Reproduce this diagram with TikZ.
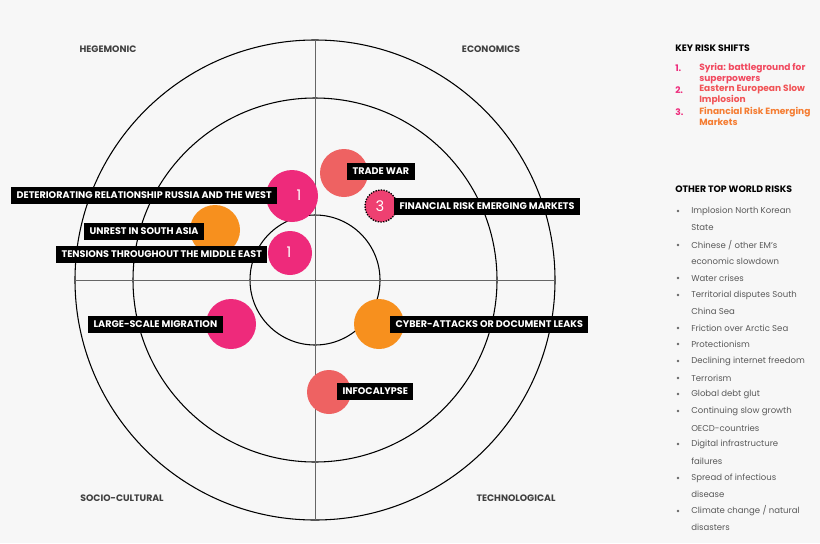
\documentclass[tikz,border=0pt]{standalone}
\usepackage{fontspec}
\setmainfont{Poppins}
\begin{document}
\begin{tikzpicture}[x=0.75pt,y=-0.75pt,
  lbl/.style={fill=black,text=white,font=\fontsize{7.2}{8}\selectfont\bfseries,inner xsep=4pt,inner ysep=0pt,minimum height=12.75pt,anchor=west},
  dot/.style={circle,inner sep=0pt,text=white,font=\fontsize{11}{12}\selectfont},
  quad/.style={text=black!75,font=\fontsize{7}{8}\selectfont\bfseries},
  risk/.style={text=black!65,font=\fontsize{6.4}{8}\selectfont,anchor=west,inner sep=0pt},
  bul/.style={circle,fill=black!60,inner sep=0pt,minimum size=2pt}]
\definecolor{cpink}{HTML}{EE2A7B}
\definecolor{corange}{HTML}{F7901E}
\definecolor{csalmon}{HTML}{EE6262}
\fill[black!3] (0,0) rectangle (820,543);
\useasboundingbox (0,0) rectangle (820,543);
\coordinate (c) at (315,280);
\draw[black,line width=0.8pt] (c) circle[radius=240];
\draw[black,line width=0.8pt] (c) circle[radius=182];
\draw[black,line width=0.8pt] (c) circle[radius=65];
\draw[black!60,line width=0.6pt] (315,40) -- (315,520);
\draw[black!60,line width=0.6pt] (75,280) -- (555,280);
\node[quad] (q1) at (108,49) {HEGEMONIC};
\node[quad] (q2) at (491,49) {ECONOMICS};
\node[quad] (q3) at (122,498) {SOCIO-CULTURAL};
\node[quad] (q4) at (516,498) {TECHNOLOGICAL};
% circles
\node[dot,fill=csalmon,minimum size=48*0.75pt] (tw) at (344,173) {};
\node[dot,fill=cpink,minimum size=52*0.75pt] (ru) at (292,196) {};
\node[dot,fill=corange,minimum size=50*0.75pt] (sa) at (215,230) {};
\node[dot,fill=cpink,minimum size=44*0.75pt] (me) at (290,253) {};
\node[dot,fill=cpink,minimum size=50*0.75pt] (mi) at (231,324) {};
\node[dot,fill=corange,minimum size=50*0.75pt] (cy) at (379,324) {};
\node[dot,fill=csalmon,minimum size=44*0.75pt] (in) at (329,392) {};
\node[dot,fill=cpink!60!csalmon,draw=black,densely dotted,line width=1pt,minimum size=32*0.75pt] (fr) at (381,206) {};
% labels
\node[lbl] (ltw) at (347,171.5) {TRADE WAR};
\node[lbl] (lru) at (11,195.5) {DETERIORATING RELATIONSHIP RUSSIA AND THE WEST};
\node[lbl] (lsa) at (84,231.5) {UNREST IN SOUTH ASIA};
\node[lbl] (lme) at (56,254.5) {TENSIONS THROUGHOUT THE MIDDLE EAST};
\node[lbl] (lfr) at (394,206.5) {FINANCIAL RISK EMERGING MARKETS};
\node[lbl] (lmi) at (88,324.5) {LARGE-SCALE MIGRATION};
\node[lbl] (lcy) at (390,324) {CYBER-ATTACKS OR DOCUMENT LEAKS};
\node[lbl] (lin) at (337,391.5) {INFOCALYPSE};
\node[text=white,font=\fontsize{11}{12}\selectfont] (n1) at (299,195) {1};
\node[text=white,font=\fontsize{11}{12}\selectfont] (n2) at (289,252) {1};
\node[text=white,font=\fontsize{11}{12}\selectfont] (n3) at (380,206) {3};
% legend
\node[font=\fontsize{7}{8}\selectfont\bfseries,anchor=west,inner sep=0pt] (k) at (675,48) {KEY RISK SHIFTS};
\node[font=\fontsize{6.8}{8}\selectfont\bfseries,text=cpink,anchor=west,inner sep=0pt] (k1) at (675,68) {1.};
\node[font=\fontsize{6.8}{8.2}\selectfont\bfseries,text=cpink!70!corange,anchor=north west,inner sep=0pt,align=left] (k1t) at (699,63) {Syria: battleground for\\superpowers};
\node[font=\fontsize{6.8}{8}\selectfont\bfseries,text=cpink,anchor=west,inner sep=0pt] (k2) at (675,90) {2.};
\node[font=\fontsize{6.8}{8.2}\selectfont\bfseries,text=cpink!60!corange,anchor=north west,inner sep=0pt,align=left] (k2t) at (699,85) {Eastern European Slow\\Implosion};
\node[font=\fontsize{6.8}{8}\selectfont\bfseries,text=cpink,anchor=west,inner sep=0pt] (k3) at (675,112) {3.};
\node[font=\fontsize{6.8}{8.2}\selectfont\bfseries,text=corange!80!cpink,anchor=north west,inner sep=0pt,align=left] (k3t) at (699,107) {Financial Risk Emerging\\Markets};
\node[font=\fontsize{7}{8}\selectfont\bfseries,anchor=west,inner sep=0pt] (o) at (675,189) {OTHER TOP WORLD RISKS};
\foreach \y/\t/\b [count=\i] in {211/{Implosion North Korean}/1,228/{State}/0,245/{Chinese / other EM's}/1,261/{economic slowdown}/0,278/{Water crises}/1,295/{Territorial disputes South}/1,311/{China Sea}/0,328/{Friction over Arctic Sea}/1,344/{Protectionism}/1,361/{Declining internet freedom}/1,378/{Terrorism}/1,394/{Global debt glut}/1,411/{Continuing slow growth}/1,428/{OECD-countries}/0,444/{Digital infrastructure}/1,461/{failures}/0,478/{Spread of infectious}/1,494/{disease}/0,511/{Climate change / natural}/1,527/{disasters}/0}{
  \node[risk] (r\i) at (691,\y) {\t};
  \ifnum\b=1 \node[bul] (b\i) at (678,\y) {};\fi
}
\end{tikzpicture}
\end{document}
